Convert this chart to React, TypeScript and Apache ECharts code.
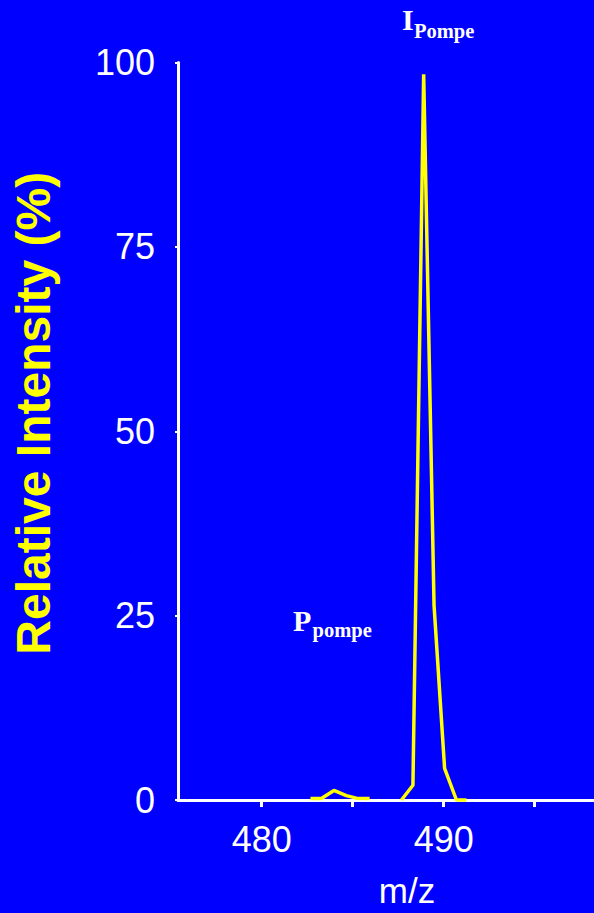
import { useEffect, useRef } from "react";
import * as echarts from "echarts";

// Spectrum traces (m/z vs relative intensity %)
const smallPeakMz = [482.68, 483.28, 483.97, 484.65, 485.2, 485.93];
const smallPeakIntensity = [0.2, 0.2, 1.3, 0.6, 0.25, 0.2];
const mainPeakMz = [487.68, 488.31, 488.9, 489.47, 490.05, 490.7, 491.25];
const mainPeakIntensity = [0, 2.0, 98.4, 26.4, 4.3, 0, 0];

const xTickValues = [480, 485, 490, 495];
const xLabelValues = [480, 490];
const yMin = 0;
const yMax = 100;
const yInterval = 25;
const xMin = 475.4;
const xMax = 498.26;

const BLUE = "#0000FF";
const YELLOW = "#FFFF00";
const WHITE = "#FFFFFF";
const SANS = "'Liberation Sans', Arial, sans-serif";
const SERIF = "'Liberation Serif', 'Times New Roman', serif";

export default function App() {
  const ref = useRef<HTMLDivElement>(null);
  useEffect(() => {
    if (!ref.current) return;
    const chart = echarts.init(ref.current, undefined, { renderer: "svg" });
    const pairs = (xs: number[], ys: number[]) => xs.map((x, i) => [x, ys[i]]);
    chart.setOption({
      animation: false,
      backgroundColor: BLUE,
      grid: { left: 178, right: 0, top: 62.5, bottom: 110.5, containLabel: false },
      xAxis: {
        type: "value",
        min: xMin,
        max: xMax,
        name: "m/z",
        nameLocation: "middle",
        nameGap: 73,
        nameTextStyle: {
          color: WHITE,
          fontSize: 35,
          fontFamily: SANS,
          padding: [0, 0, 0, 42],
        },
        axisLine: { show: true, onZero: false, lineStyle: { color: WHITE, width: 3 } },
        axisTick: {
          show: true,
          customValues: xTickValues,
          length: 7,
          lineStyle: { color: WHITE, width: 3 },
        },
        axisLabel: {
          customValues: xLabelValues,
          color: WHITE,
          fontSize: 36,
          fontFamily: SANS,
          margin: 21,
        },
        splitLine: { show: false },
      },
      yAxis: {
        type: "value",
        min: yMin,
        max: yMax,
        interval: yInterval,
        name: "Relative Intensity (%)",
        nameLocation: "middle",
        nameRotate: 90,
        nameGap: 121,
        nameTextStyle: {
          color: YELLOW,
          fontSize: 48,
          fontWeight: "bold",
          fontFamily: SANS,
          padding: [0, 0, 0, 36],
        },
        axisLine: { show: true, lineStyle: { color: WHITE, width: 3 } },
        axisTick: { show: true, length: 3, lineStyle: { color: WHITE, width: 2 } },
        axisLabel: { color: WHITE, fontSize: 36, fontFamily: SANS, margin: 23 },
        splitLine: { show: false },
      },
      series: [
        {
          type: "line",
          data: pairs(smallPeakMz, smallPeakIntensity),
          showSymbol: false,
          clip: false,
          lineStyle: { color: YELLOW, width: 3.5 },
          itemStyle: { color: YELLOW },
        },
        {
          type: "line",
          data: pairs(mainPeakMz, mainPeakIntensity),
          showSymbol: false,
          clip: false,
          lineStyle: { color: YELLOW, width: 3.5 },
          itemStyle: { color: YELLOW },
        },
      ],
      graphic: [
        {
          type: "text",
          x: 402,
          y: 19,
          style: { text: "I", fill: WHITE, fontSize: 30, fontWeight: "bold", fontFamily: SERIF, align: "left", verticalAlign: "middle" },
        },
        {
          type: "text",
          x: 414,
          y: 30.5,
          style: { text: "Pompe", fill: WHITE, fontSize: 20.5, fontWeight: "bold", fontFamily: SERIF, align: "left", verticalAlign: "middle" },
        },
        {
          type: "text",
          x: 293,
          y: 620.5,
          style: { text: "P", fill: WHITE, fontSize: 30, fontWeight: "bold", fontFamily: SERIF, align: "left", verticalAlign: "middle" },
        },
        {
          type: "text",
          x: 312.5,
          y: 630,
          style: { text: "pompe", fill: WHITE, fontSize: 20.5, fontWeight: "bold", fontFamily: SERIF, align: "left", verticalAlign: "middle" },
        },
      ],
    });
    return () => chart.dispose();
  }, []);
  return (
    <div
      ref={ref}
      style={{ position: "fixed", left: 0, top: 0, width: 594, height: 913 }}
    />
  );
}
